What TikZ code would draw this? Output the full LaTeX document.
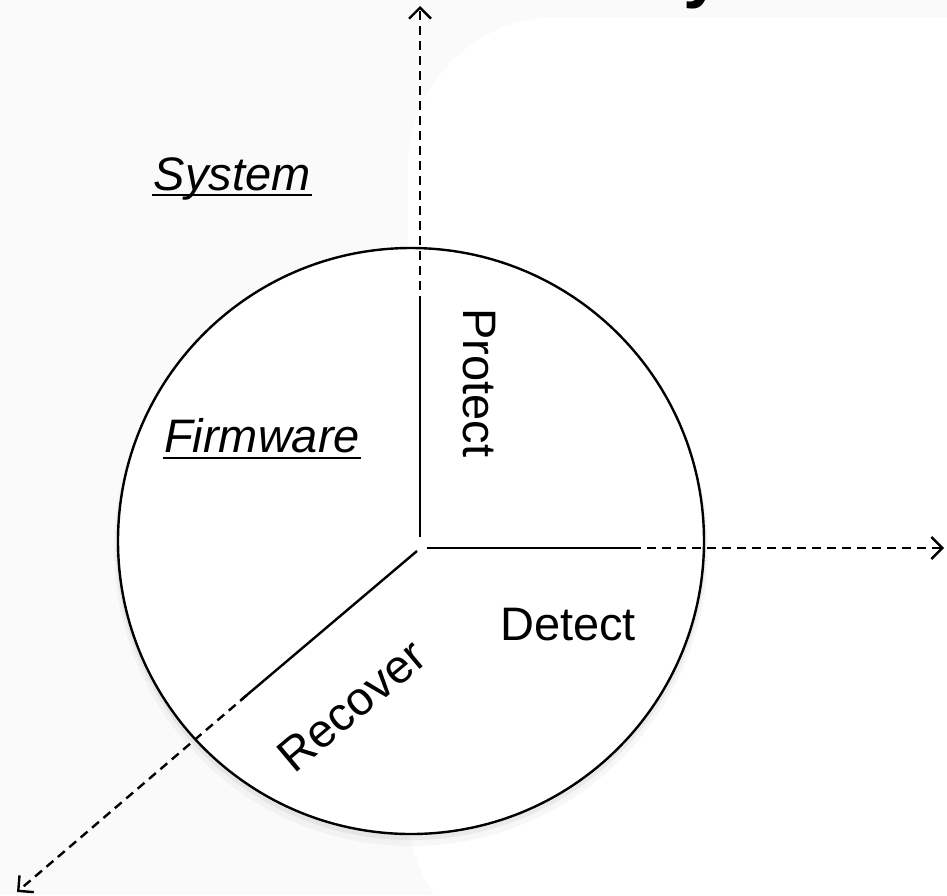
\documentclass[tikz,border=0pt]{standalone}
\usepackage{fontspec}
\setmainfont{Liberation Sans}
\usetikzlibrary{arrows.meta}
\definecolor{bgcol}{RGB}{250,250,250}
\begin{document}
\begin{tikzpicture}[x=1pt,y=-1pt,line width=2.4pt,
  lbl/.style={font=\fontsize{47}{56}\selectfont, inner sep=0pt, anchor=base},
  axisline/.style={line width=2.4pt, dash pattern=on 9pt off 6pt, -{Straight Barb[length=11pt,width=22pt]}},
  spoke/.style={line width=2.4pt},
  uline/.style={line width=2.8pt}]
\useasboundingbox (0,0) rectangle (947,895);
\clip (0,0) rectangle (947,895);
\fill[bgcol] (0,0) rectangle (947,895);
\fill[white, rounded corners=150pt] (408,17) rectangle (1150,960);
\node[anchor=base west, inner sep=0pt, font=\bfseries\fontsize{70}{80}\selectfont] (ttl) at (682,-6) {y};
% circle with soft shadow
\fill[black,opacity=0.03] (411,549) circle[radius=297pt];
\fill[black,opacity=0.05] (411,545) circle[radius=295pt];
\node[circle, draw, fill=white, minimum size=586pt, inner sep=0pt, line width=2.4pt] (c) at (411,541) {};
% spoke coordinates
\coordinate (vbot) at (420,537);
\coordinate (vtop) at (420,300);
\coordinate (hl) at (427,548);
\coordinate (hr) at (640,548);
\coordinate (dc) at (417,551);
\coordinate (dend) at (241,700);
\coordinate (vds) at (420,335);
\coordinate (vtip) at (420,6);
\coordinate (hds) at (617,548);
\coordinate (htip) at (944,548);
\coordinate (dds) at (247,695);
\coordinate (dtip) at (17,892);
\draw[spoke] (vbot) -- (vtop);
\draw[spoke] (hl) -- (hr);
\draw[spoke] (dc) -- (dend);
\draw[axisline] (vds) -- (vtip);
\draw[axisline] (hds) -- (htip);
\draw[axisline] (dds) -- (dtip);
% labels
\node[lbl, font=\itshape\fontsize{47}{56}\selectfont] (sys) at (232,190) {System};
\draw[uline] ([yshift=-5pt]sys.base west) -- ([yshift=-5pt]sys.base east);
\node[lbl, font=\itshape\fontsize{47}{56}\selectfont] (fw) at (262,452) {Firmware};
\draw[uline] ([yshift=-6pt]fw.base west) -- ([yshift=-6pt]fw.base east);
\node[lbl] (det) at (568,640) {Detect};
\node[lbl, rotate=-90] (pro) at (463,383) {Protect};
\node[lbl, rotate=40] (rec) at (362,718) {Recover};
\end{tikzpicture}
\end{document}
